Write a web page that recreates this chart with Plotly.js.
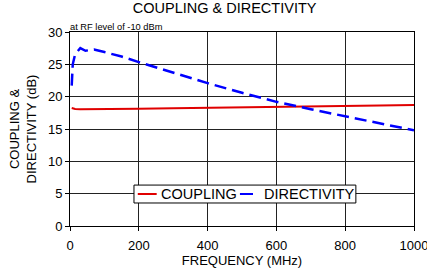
<!DOCTYPE html>
<html><head><meta charset="utf-8">
<script src="https://cdn.plot.ly/plotly-3.0.1.min.js"></script>
<style>html,body{margin:0;padding:0;background:#fff;}#chart{width:427px;height:270px;}</style>
</head><body><div id="chart"></div>
<script>
const freqCoupling = [5, 15, 30, 60, 100, 200, 300, 400, 500, 600, 700, 800, 900, 1000];
const coupling = [18.25, 18.1, 18.05, 18.08, 18.1, 18.15, 18.2, 18.25, 18.32, 18.4, 18.47, 18.55, 18.62, 18.7];
const freqDirectivity = [5, 8, 15, 30, 45, 70, 100, 150, 200, 300, 400, 500, 600, 700, 800, 900, 1000];
const directivity = [21.7, 25.0, 26.6, 27.5, 27.1, 27.3, 26.9, 26.2, 25.35, 23.7, 22.1, 20.6, 19.2, 18.05, 16.95, 15.85, 14.8];
const seriesNames = ['COUPLING', 'DIRECTIVITY'];
const seriesColors = ['#e00000', '#0000ff'];
const xTicks = [0, 200, 400, 600, 800, 1000];
const yTicks = [0, 5, 10, 15, 20, 25, 30];

const font = 'Liberation Sans, Arial, sans-serif';
const traces = [
  {x: freqCoupling, y: coupling, name: seriesNames[0], mode: 'lines',
   line: {color: seriesColors[0], width: 2}},
  {x: freqDirectivity, y: directivity, name: seriesNames[1], mode: 'lines',
   line: {color: seriesColors[1], width: 2.5, dash: '12px,6px'}}
];

// custom boxed legend (paper coordinates)
const legY = 0.165;
const legendShapes = [
  {type: 'rect', xref: 'paper', yref: 'paper', x0: 0.186, x1: 0.831, y0: 0.1186, y1: 0.211,
   fillcolor: '#fff', line: {color: '#000', width: 1}, layer: 'above'},
  {type: 'line', xref: 'paper', yref: 'paper', x0: 0.197, x1: 0.252, y0: legY, y1: legY,
   line: {color: seriesColors[0], width: 2}, layer: 'above'},
  {type: 'line', xref: 'paper', yref: 'paper', x0: 0.494, x1: 0.532, y0: legY, y1: legY,
   line: {color: seriesColors[1], width: 2}, layer: 'above'}
];
const legendTexts = [
  {text: seriesNames[0], xref: 'paper', yref: 'paper', x: 0.259, y: legY, xanchor: 'left', yanchor: 'middle',
   showarrow: false, font: {size: 14.5}},
  {text: seriesNames[1], xref: 'paper', yref: 'paper', x: 0.558, y: legY, xanchor: 'left', yanchor: 'middle',
   showarrow: false, font: {size: 14.5}}
];

const layout = {
  width: 427, height: 270,
  margin: {l: 70, r: 13, t: 32, b: 44},
  paper_bgcolor: '#fff', plot_bgcolor: '#fff',
  font: {family: font, color: '#000', size: 13},
  title: {text: 'COUPLING & DIRECTIVITY', font: {size: 14.5}, x: 0.526, xanchor: 'center',
    yref: 'container', y: 0.972, yanchor: 'middle'},
  xaxis: {range: [0, 1000], tickvals: xTicks, ticks: 'outside', ticklen: 4, tickcolor: '#000',
    showgrid: true, gridcolor: '#222', gridwidth: 1, zeroline: false,
    showline: true, linecolor: '#000', linewidth: 1, mirror: true,
    ticklabeloverflow: 'allow', ticklabelstandoff: 3,
    tickfont: {size: 13}, title: {text: 'FREQUENCY (MHz)', font: {size: 13}, standoff: 4}},
  yaxis: {range: [0, 30], tickvals: yTicks, ticks: 'outside', ticklen: 4, tickcolor: '#000',
    showgrid: true, gridcolor: '#222', gridwidth: 1, zeroline: false,
    showline: true, linecolor: '#000', linewidth: 1, mirror: true,
    tickfont: {size: 13}, title: {text: 'COUPLING &amp;<br>DIRECTIVITY (dB)', font: {size: 13}, standoff: 8}},
  shapes: legendShapes,
  annotations: [{text: 'at RF level of -10 dBm', xref: 'paper', yref: 'paper', x: 0, y: 1,
    xanchor: 'left', yanchor: 'bottom', showarrow: false, font: {size: 9.3}, yshift: -2, xshift: -2}]
    .concat(legendTexts),
  showlegend: false
};
Plotly.newPlot('chart', traces, layout, {staticPlot: true, displayModeBar: false});
</script></body></html>
